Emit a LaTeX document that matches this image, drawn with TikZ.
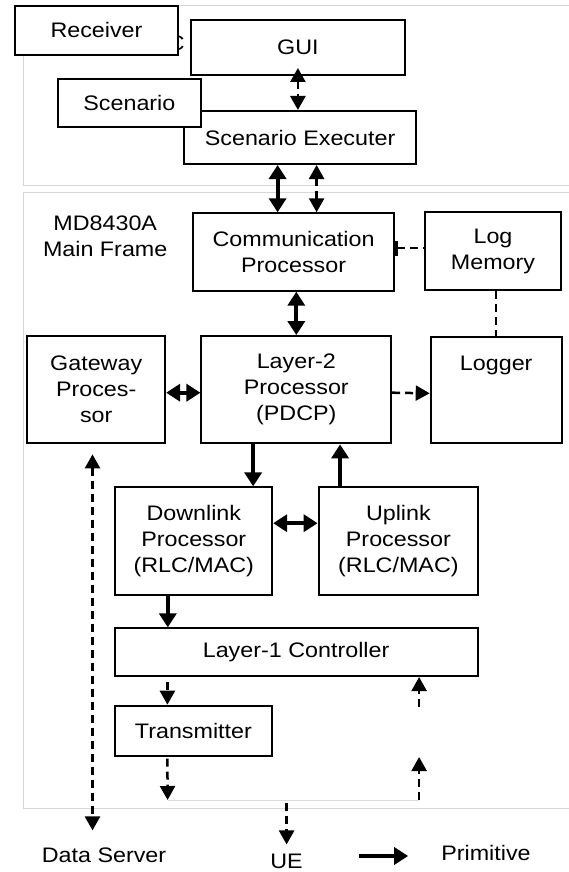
\documentclass[tikz,border=0pt]{standalone}
\usepackage{fontspec}
\setmainfont{Liberation Sans}[FakeStretch=1.11]
\usetikzlibrary{arrows.meta, positioning}

\begin{document}
\begin{tikzpicture}
    [
        x=1pt, y=-1pt,
        font=\fontsize{21pt}{26pt}\selectfont,
        box/.style={draw, line width=2pt, fill=white, align=center, inner sep=0pt},
        txt/.style={inner sep=0pt, align=center},
        frame/.style={draw=black!16, line width=1pt},
        air/.style={draw=black!14, line width=1pt},
        prim/.style={line width=4pt, -{Triangle[length=14pt,width=17pt]}},
        prim2/.style={line width=4pt, {Triangle[length=14pt,width=17pt]}-{Triangle[length=14pt,width=17pt]}},
        dashline/.style={line width=2.5pt, dash pattern=on 8pt off 5pt},
        sig/.style={dashline, -{Triangle[length=14pt,width=15pt]}},
        sig2/.style={dashline, {Triangle[length=14pt,width=15pt]}-{Triangle[length=14pt,width=15pt]}},
    ]
    \useasboundingbox (0,0) rectangle (569,872);

    % frames
    \draw[frame] (569,6) -| (23.6,185) -- (569,185);
    \draw[frame] (569,192.7) -| (23.6,808.3) -- (569,808.3);

    % PC side
    \node[txt, anchor=east] (cut) at (185,43) {C};
    \node[box, minimum width=162.6pt, minimum height=48.5pt] (receiver) at (96.5,30.3) {Receiver};
    \node[box, minimum width=214.8pt, minimum height=55pt] (gui) at (297.9,47.5) {GUI};
    \node[box, minimum width=232.2pt, minimum height=53pt] (exec) at (300.1,137.5) {Scenario Executer};
    \node[box, minimum width=142.7pt, minimum height=48pt] (scenario) at (129.4,103) {Scenario};

    % main frame
    \node[txt] (md) at (105.2,236) {MD8430A\\Main Frame};
    \node[box, minimum width=200.3pt, minimum height=77.4pt] (comm) at (293.6,252) {Communication\\Processor};
    \node[box, minimum width=135.3pt, minimum height=77.7pt] (logmem) at (493,251.2) {Log\\Memory};
    \node[box, minimum width=137.9pt, minimum height=107.3pt] (gateway) at (96.2,389.7) {Gateway\\Proces-\\sor};
    \node[box, minimum width=189.7pt, minimum height=107.3pt] (layer2) at (296.3,389.7) {Layer-2\\Processor\\(PDCP)};
    \node[box, minimum width=131pt, minimum height=106pt] (logger) at (496.2,390.3) {};
    \node[txt, below=20pt of logger.north] (loggertxt) {Logger};
    \node[box, minimum width=156.7pt, minimum height=107.7pt] (downlink) at (193.8,541.2) {Downlink\\Processor\\(RLC/MAC)};
    \node[box, minimum width=159.6pt, minimum height=107.7pt] (uplink) at (398.4,541.2) {Uplink\\Processor\\(RLC/MAC)};
    \node[box, minimum width=362.8pt, minimum height=47.7pt] (layer1) at (296.1,652.2) {Layer-1 Controller};
    \node[box, minimum width=157.3pt, minimum height=50pt] (tx) at (193.4,730.7) {Transmitter};

    % outside
    \node[txt] (ds) at (104,855) {Data Server};
    \node[txt] (ue) at (286.6,861) {UE};
    \node[txt] (primitive) at (486,853) {Primitive};

    \coordinate (air-l) at (167.6,800);
    \coordinate (air-r) at (419.1,800);
    \coordinate (ue-in) at (286.6,803);
    \coordinate (rx-a) at (419.1,757);
    \coordinate (rx-b) at (419.1,707);
    \coordinate (key) at (359,856);

    % connectors
    \draw[sig2, shorten <=-8pt] (gui.south) -- (gui.south |- exec.north);
    \draw[prim2] ([xshift=-16pt]comm.north |- exec.south) -- ([xshift=-16pt]comm.north);
    \draw[sig2] ([xshift=23pt]comm.north |- exec.south) -- ([xshift=23pt]comm.north);
    \draw[dashline, {Bar[width=15pt,line width=3.5pt]}-] ([yshift=4pt]comm.east) -- ([yshift=4pt]comm.east -| logmem.west);
    \draw[dashline] (logger.north |- logmem.south) -- (logger.north);
    \draw[prim2] (layer2.north |- comm.south) -- (layer2.north);
    \draw[prim2] ([yshift=-3pt]gateway.east) -- ([yshift=-3pt]layer2.west);
    \draw[sig] ([yshift=-3pt]layer2.east) -- ([yshift=-3pt]logger.west);
    \draw[prim] ([xshift=-20pt]downlink.north east |- layer2.south) -- ([xshift=-20pt]downlink.north east);
    \draw[prim] ([xshift=22.5pt]uplink.north west) -- ([xshift=22.5pt]uplink.north west |- layer2.south);
    \draw[prim2] ([yshift=18pt]downlink.east) -- ([yshift=18pt]uplink.west);
    \draw[prim] ([xshift=-26pt]downlink.south) -- ([xshift=-26pt]downlink.south |- layer1.north);
    \draw[sig, shorten <=5pt] ([xshift=-26pt]tx.north |- layer1.south) -- ([xshift=-26pt]tx.north);
    \draw[sig, shorten <=2pt] ([xshift=-26pt]tx.south) -- (air-l);
    \draw[air] (air-l) -- (air-r);
    \draw[sig] (air-r) -- (rx-a);
    \draw[sig] (rx-b) -- (rx-b |- layer1.south);
    \draw[sig] (ue-in) -- ([yshift=9pt]ue.north);
    \draw[sig2, shorten <=10pt, shorten >=17pt] ([xshift=-3.7pt]gateway.south) -- ([xshift=-3.7pt]gateway.south |- ds.north);
    \draw[prim, shorten >=33pt] (key) -- (key -| primitive.west);
\end{tikzpicture}
\end{document}
